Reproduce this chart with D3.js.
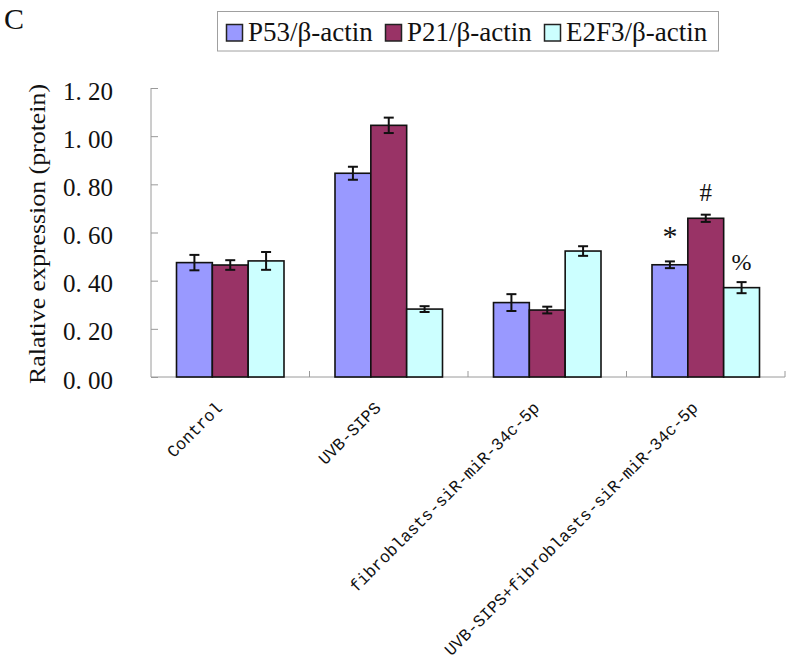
<!DOCTYPE html>
<html><head><meta charset="utf-8">
<script src="https://cdn.jsdelivr.net/npm/d3@7"></script>
<style>body{margin:0;background:#fff;}svg{display:block;}</style>
</head><body>
<script>
const categories = ["Control", "UVB-SIPS", "fibroblasts-siR-miR-34c-5p", "UVB-SIPS+fibroblasts-siR-miR-34c-5p"];
const seriesNames = ["P53/β-actin", "P21/β-actin", "E2F3/β-actin"];
const seriesColors = ["#9999FF", "#993366", "#CCFFFF"];
const p53 = [0.475, 0.846, 0.309, 0.466];
const p21 = [0.465, 1.045, 0.278, 0.659];
const e2f3 = [0.482, 0.282, 0.523, 0.371];
const p53Err = [0.032, 0.027, 0.035, 0.014];
const p21Err = [0.020, 0.032, 0.014, 0.015];
const e2f3Err = [0.037, 0.012, 0.020, 0.023];
const yTicks = [0, 0.2, 0.4, 0.6, 0.8, 1.0, 1.2];
const yTickLabels = ["0. 00", "0. 20", "0. 40", "0. 60", "0. 80", "1. 00", "1. 20"];
const marks = [{cat: 3, series: 0, text: "*"}, {cat: 3, series: 1, text: "#"}, {cat: 3, series: 2, text: "%"}];

const values = [p53, p21, e2f3];
const errs = [p53Err, p21Err, e2f3Err];

const W = 791, H = 664;
const svg = d3.select("body").append("svg").attr("width", W).attr("height", H);

const x0 = d3.scaleBand().domain(categories).range([151, 785]);
const x1 = d3.scaleBand().domain(seriesNames).range([25.5, x0.bandwidth() - 25.5]);
const y = d3.scaleLinear().domain([0, 1.2]).range([377, 88]);

// y axis
const yAxis = svg.append("g").attr("transform", "translate(151,0)")
  .call(d3.axisRight(y).tickValues(yTicks).tickSize(7).tickFormat(""));
yAxis.select(".domain").attr("stroke", "#9a9a9a").attr("d", `M0,${y(1.2)}V${y(0)}`);
yAxis.selectAll(".tick line").attr("stroke", "#9a9a9a");
svg.append("g").selectAll("text").data(yTicks).join("text")
  .attr("x", 113).attr("y", d => y(d) + 11.5)
  .attr("text-anchor", "end")
  .attr("font-family", "Liberation Serif").attr("font-size", 25)
  .attr("fill", "#111")
  .text((d, i) => yTickLabels[i]);

// x axis baseline
const xAxis = svg.append("g").attr("transform", `translate(0,${y(0)})`)
  .call(d3.axisTop(x0).tickSize(0).tickFormat(""));
xAxis.select(".domain").attr("stroke", "#9a9a9a").attr("d", `M151,0H785`);
xAxis.selectAll(".tick").remove();
const bounds = categories.map(c => x0(c)).concat([x0.range()[1]]).slice(1);
svg.append("g").selectAll("line").data(bounds).join("line")
  .attr("x1", d => d).attr("x2", d => d)
  .attr("y1", y(0)).attr("y2", y(0) - 6)
  .attr("stroke", "#9a9a9a");

// bars
const groups = svg.append("g").selectAll("g").data(categories).join("g")
  .attr("transform", c => `translate(${x0(c)},0)`);
seriesNames.forEach((s, si) => {
  groups.append("rect")
    .attr("x", x1(s)).attr("width", x1.bandwidth())
    .attr("y", (c, ci) => y(values[si][ci]))
    .attr("height", (c, ci) => y(0) - y(values[si][ci]))
    .attr("fill", seriesColors[si]).attr("stroke", "#111").attr("stroke-width", 1.6);
});
// error bars
seriesNames.forEach((s, si) => {
  const cx = x1(s) + x1.bandwidth() / 2;
  const g = groups.append("g").attr("stroke", "#111").attr("stroke-width", 2);
  g.append("line").attr("x1", cx).attr("x2", cx)
    .attr("y1", (c, ci) => y(values[si][ci] + errs[si][ci]))
    .attr("y2", (c, ci) => y(values[si][ci] - errs[si][ci]));
  g.append("line").attr("x1", cx - 5).attr("x2", cx + 5)
    .attr("y1", (c, ci) => y(values[si][ci] + errs[si][ci]))
    .attr("y2", (c, ci) => y(values[si][ci] + errs[si][ci]));
  g.append("line").attr("x1", cx - 5).attr("x2", cx + 5)
    .attr("y1", (c, ci) => y(values[si][ci] - errs[si][ci]))
    .attr("y2", (c, ci) => y(values[si][ci] - errs[si][ci]));
});

// significance marks
const markOffsets = [26, 22, 20];
const markSizes = [30, 25, 24];
svg.append("g").selectAll("text").data(marks).join("text")
  .attr("x", d => x0(categories[d.cat]) + x1(seriesNames[d.series]) + x1.bandwidth() / 2)
  .attr("y", (d, i) => y(values[d.series][d.cat] + errs[d.series][d.cat]) - markOffsets[i])
  .attr("text-anchor", "middle").attr("dominant-baseline", "central")
  .attr("font-family", "Liberation Serif").attr("font-size", (d, i) => markSizes[i])
  .attr("fill", "#111")
  .text(d => d.text);

// x labels, rotated -45, ending just left of each category centre
svg.append("g").selectAll("text").data(categories).join("text")
  .attr("transform", c => `translate(${x0(c) + x0.bandwidth() / 2 - 7},409) rotate(-45)`)
  .attr("text-anchor", "end")
  .attr("font-family", "Liberation Mono").attr("font-size", 17)
  .attr("textLength", c => c.length * 10).attr("lengthAdjust", "spacingAndGlyphs")
  .attr("fill", "#111")
  .text(c => c);

// y title
svg.append("text")
  .attr("transform", "translate(45,234) rotate(-90)")
  .attr("text-anchor", "middle")
  .attr("font-family", "Liberation Serif").attr("font-size", 24)
  .attr("textLength", 300).attr("lengthAdjust", "spacingAndGlyphs")
  .attr("fill", "#111")
  .text("Ralative expression (protein)");

// panel letter
svg.append("text").attr("x", 4).attr("y", 29)
  .attr("font-family", "Liberation Serif").attr("font-size", 30)
  .attr("fill", "#111")
  .text("C");

// legend
svg.append("rect").attr("x", 217.5).attr("y", 11.5).attr("width", 501).attr("height", 39.5)
  .attr("fill", "#fff").attr("stroke", "#a0a0a0");
const legX = d3.scaleOrdinal().domain(seriesNames).range([226, 385, 544]);
const leg = svg.append("g").selectAll("g").data(seriesNames).join("g")
  .attr("transform", s => `translate(${legX(s)},0)`);
leg.append("rect").attr("x", 0.5).attr("y", 24.5).attr("width", 16).attr("height", 16.5)
  .attr("fill", (s, i) => seriesColors[i]).attr("stroke", "#222").attr("stroke-width", 1.5);
leg.append("text").attr("x", 22).attr("y", 41)
  .attr("font-family", "Liberation Serif").attr("font-size", 27).attr("fill", "#111")
  .text(s => s);
</script>
</body></html>
